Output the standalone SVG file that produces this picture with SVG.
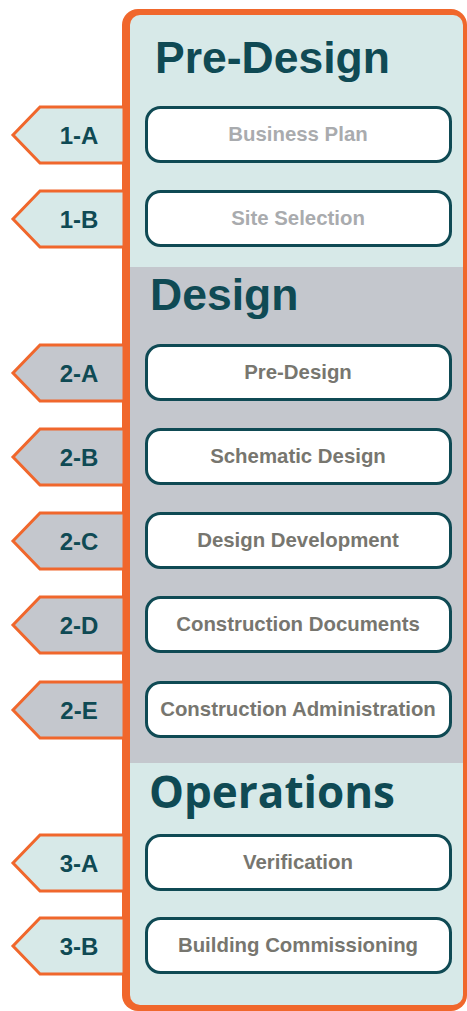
<svg xmlns="http://www.w3.org/2000/svg" width="467" height="1011" viewBox="0 0 467 1011">
  <style>
    .tab { stroke: #f0672c; stroke-width: 3; stroke-linejoin: miter; }
    .tab-light { fill: #d7e9e8; }
    .tab-gray { fill: #c4c7cd; }
    .tab-label { font-family: "Liberation Sans", Arial, sans-serif; font-weight: bold; font-size: 24px; fill: #0f4a54; text-anchor: middle; }
    .box { fill: #ffffff; stroke: #0f4a54; stroke-width: 3; }
    .box-label { font-family: "Liberation Sans", Arial, sans-serif; font-weight: bold; font-size: 20.4px; text-anchor: middle; }
    .faint { fill: #a9abae; }
    .dim { fill: #77766f; }
    .heading { font-family: "Liberation Sans", Arial, sans-serif; font-weight: bold; font-size: 44.5px; fill: #0f4a54; }
    .heading-os { font-family: "Open Sans", "Liberation Sans", sans-serif; font-weight: bold; font-size: 44px; fill: #0f4a54; }
  </style>

  <!-- outer frame -->
  <g id="frame">
    <rect x="122" y="9" width="345" height="1002" rx="16" fill="#f0672c"/>
    <rect x="130" y="15" width="333" height="990" rx="10" fill="#d7e9e8"/>
    <rect x="130" y="267" width="333" height="496" fill="#c4c7cd"/>
  </g>

  <!-- section headings -->
  <g id="section-predesign"><text class="heading" x="155" y="73">Pre-Design</text></g>
  <g id="section-design"><text class="heading" x="150" y="310">Design</text></g>
  <g id="section-operations"><text class="heading-os" x="149" y="808">Operations</text></g>

  <g id="connectors"></g>

  <!-- step tabs -->
  <g id="tab-1a"><polygon class="tab tab-light" points="124,107 40,107 13,135 40,163 124,163"/><text class="tab-label" x="79" y="144">1-A</text></g>
  <g id="tab-1b"><polygon class="tab tab-light" points="124,191 40,191 13,219 40,247 124,247"/><text class="tab-label" x="79" y="228">1-B</text></g>
  <g id="tab-2a"><polygon class="tab tab-gray" points="124,345 40,345 13,373 40,401 124,401"/><text class="tab-label" x="79" y="382">2-A</text></g>
  <g id="tab-2b"><polygon class="tab tab-gray" points="124,429 40,429 13,457 40,485 124,485"/><text class="tab-label" x="79" y="466">2-B</text></g>
  <g id="tab-2c"><polygon class="tab tab-gray" points="124,513 40,513 13,541 40,569 124,569"/><text class="tab-label" x="79" y="550">2-C</text></g>
  <g id="tab-2d"><polygon class="tab tab-gray" points="124,597 40,597 13,625 40,653 124,653"/><text class="tab-label" x="79" y="634">2-D</text></g>
  <g id="tab-2e"><polygon class="tab tab-gray" points="124,682 40,682 13,710 40,738 124,738"/><text class="tab-label" x="79" y="719">2-E</text></g>
  <g id="tab-3a"><polygon class="tab tab-light" points="124,835 40,835 13,863 40,891 124,891"/><text class="tab-label" x="79" y="872">3-A</text></g>
  <g id="tab-3b"><polygon class="tab tab-light" points="124,918 40,918 13,946 40,974 124,974"/><text class="tab-label" x="79" y="955">3-B</text></g>

  <!-- step boxes -->
  <g id="box-business-plan"><rect class="box" x="146.5" y="107.5" width="304" height="54" rx="14"/><text class="box-label faint" x="298" y="141">Business Plan</text></g>
  <g id="box-site-selection"><rect class="box" x="146.5" y="191.5" width="304" height="54" rx="14"/><text class="box-label faint" x="298" y="225">Site Selection</text></g>
  <g id="box-pre-design"><rect class="box" x="146.5" y="345.5" width="304" height="54" rx="14"/><text class="box-label dim" x="298" y="379">Pre-Design</text></g>
  <g id="box-schematic"><rect class="box" x="146.5" y="429.5" width="304" height="54" rx="14"/><text class="box-label dim" x="298" y="463">Schematic Design</text></g>
  <g id="box-development"><rect class="box" x="146.5" y="513.5" width="304" height="54" rx="14"/><text class="box-label dim" x="298" y="547">Design Development</text></g>
  <g id="box-documents"><rect class="box" x="146.5" y="597.5" width="304" height="54" rx="14"/><text class="box-label dim" x="298" y="631">Construction Documents</text></g>
  <g id="box-administration"><rect class="box" x="146.5" y="682.5" width="304" height="54" rx="14"/><text class="box-label dim" x="298" y="716">Construction Administration</text></g>
  <g id="box-verification"><rect class="box" x="146.5" y="835.5" width="304" height="54" rx="14"/><text class="box-label dim" x="298" y="869">Verification</text></g>
  <g id="box-commissioning"><rect class="box" x="146.5" y="918.5" width="304" height="54" rx="14"/><text class="box-label dim" x="298" y="952">Building Commissioning</text></g>
</svg>
